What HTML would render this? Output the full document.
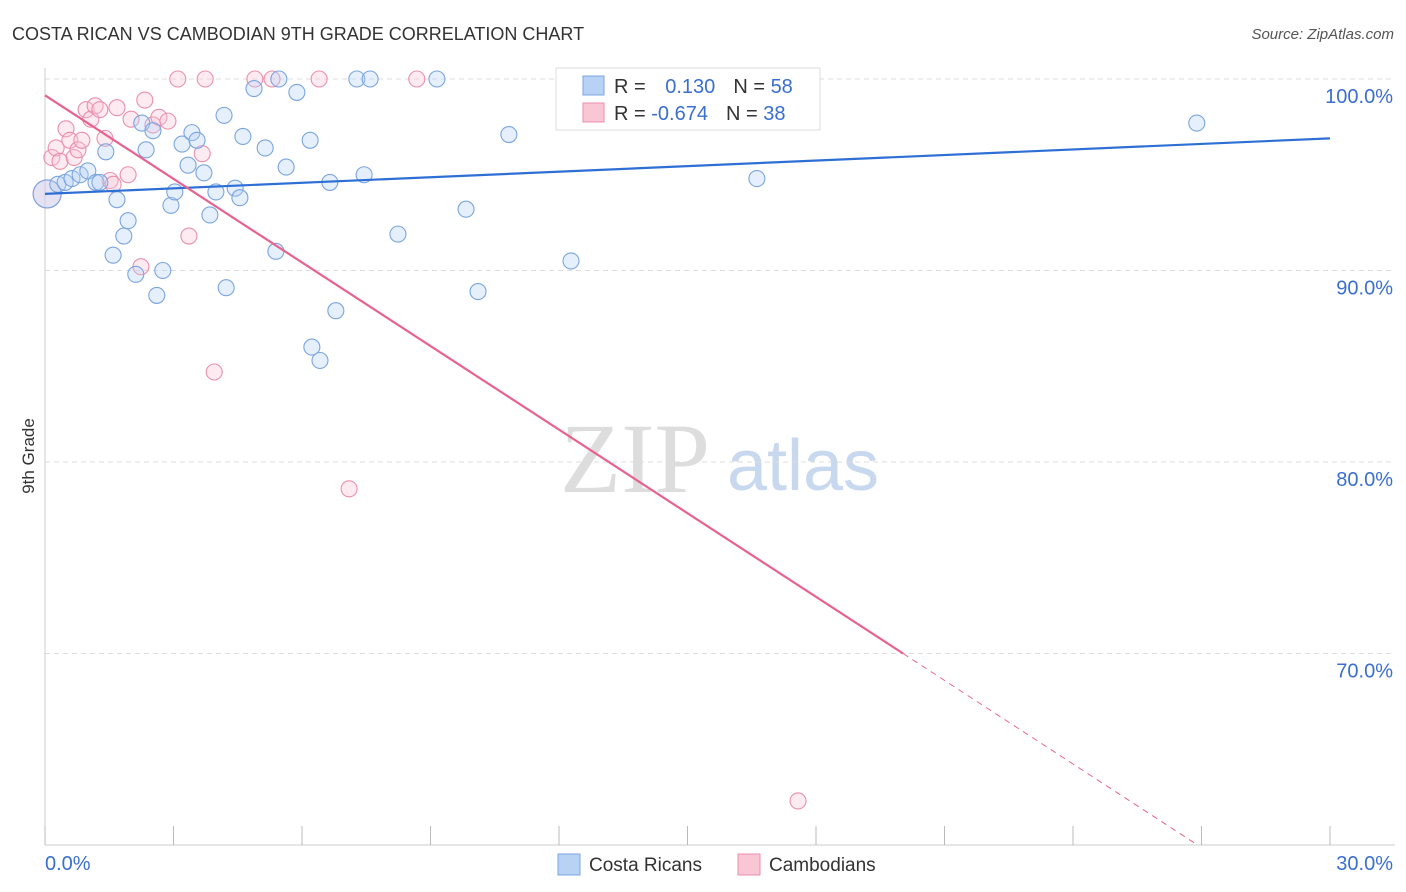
<!DOCTYPE html>
<html><head><meta charset="utf-8"><style>
body{margin:0;background:#fff;font-family:"Liberation Sans",sans-serif;}
svg{display:block}
</style></head><body>
<svg id="chart" width="1406" height="892" viewBox="0 0 1406 892">
<text x="12" y="40" font-size="18" fill="#333">COSTA RICAN VS CAMBODIAN 9TH GRADE CORRELATION CHART</text>
<text x="1394" y="39" font-size="15" fill="#555" font-style="italic" text-anchor="end">Source: ZipAtlas.com</text>
<text x="34" y="456" font-size="17" fill="#333" text-anchor="middle" transform="rotate(-90 34 456)">9th Grade</text>
<g><text x="635" y="492" font-size="100" font-family="Liberation Serif,serif" fill="#ddd" text-anchor="middle">ZIP</text><text x="803" y="490" font-size="72" fill="#c8d8ee" text-anchor="middle">atlas</text></g>
<g id="grid"></g><g id="marks"></g>
<g>
<rect x="556" y="68" width="264" height="62" fill="#fff" stroke="#ddd"/>
<rect x="583" y="76" width="21" height="19" fill="#b8d2f5" stroke="#7aa5e0"/>
<rect x="583" y="103" width="21" height="19" fill="#f9c6d6" stroke="#eb8fac"/>
<text x="614" y="93" font-size="20" fill="#333">R = <tspan fill="#3a6fd0" dx="14">0.130</tspan><tspan dx="18" fill="#333">N = </tspan><tspan fill="#3a6fd0">58</tspan></text>
<text x="614" y="120" font-size="20" fill="#333">R = <tspan fill="#3a6fd0">-0.674</tspan><tspan dx="18" fill="#333">N = </tspan><tspan fill="#3a6fd0">38</tspan></text>
</g>
<g>
<rect x="558" y="854" width="22" height="21" fill="#b8d2f5" stroke="#7aa5e0"/><text x="589" y="871" font-size="19" fill="#333">Costa Ricans</text>
<rect x="738" y="854" width="22" height="21" fill="#f9c6d6" stroke="#eb8fac"/><text x="769" y="871" font-size="19" fill="#333">Cambodians</text>
</g>
</svg>
<script>
const blueX=[0.05,0.3,0.47,0.63,0.82,1.0,1.19,1.28,1.42,1.59,1.68,1.84,1.94,2.12,2.26,2.36,2.52,2.61,2.75,2.94,3.03,3.2,3.34,3.43,3.55,3.71,3.85,3.99,4.18,4.23,4.44,4.55,4.62,4.88,5.14,5.39,5.46,5.63,5.88,6.19,6.23,6.42,6.65,6.79,7.28,7.45,7.59,8.24,9.15,9.83,10.11,10.83,12.28,16.62,26.89];
const blueY=[94.0,94.5,94.6,94.8,95.0,95.2,94.6,94.6,96.2,90.8,93.7,91.8,92.6,89.8,97.7,96.3,97.3,88.7,90.0,93.4,94.1,96.6,95.5,97.2,96.8,95.1,92.9,94.1,98.1,89.1,94.3,93.8,97.0,99.5,96.4,91.0,100,95.4,99.3,96.8,86.0,85.3,94.6,87.9,100,95.0,100,91.9,100,93.2,88.9,97.1,90.5,94.8,97.7];
const pinkX=[0.05,0.16,0.26,0.35,0.49,0.58,0.68,0.77,0.86,0.96,1.07,1.17,1.28,1.4,1.52,1.59,1.68,1.94,2.01,2.24,2.33,2.52,2.66,2.87,3.1,3.36,3.67,3.74,3.95,4.9,5.3,6.4,7.1,8.68,17.58];
const pinkY=[94.0,95.9,96.4,95.7,97.4,96.8,95.9,96.3,96.8,98.4,97.9,98.6,98.4,96.9,94.7,94.5,98.5,95.0,97.9,90.2,98.9,97.6,98.0,97.8,100,91.8,96.1,100,84.7,100,100,100,78.6,100,62.3];
const blueTrend=[94.0,96.9];
const pinkTrend=[99.15,55.5];
const yTicks=[100,90,80,70];
const xTicks=[0,3,6,9,12,15,18,21,24,27,30];
const NS="http://www.w3.org/2000/svg";
const sx=v=>45+v/30*1285, sy=v=>79+(100-v)*19.15;
function mk(t,a,p){const e=document.createElementNS(NS,t);for(const k in a)e.setAttribute(k,a[k]);p.appendChild(e);return e;}
const grid=document.getElementById('grid'),marks=document.getElementById('marks');
yTicks.forEach(v=>{
 const l=mk('line',{x1:45,x2:1395,y1:sy(v),y2:sy(v),stroke:'#ddd','stroke-dasharray':'5,4'},grid);
 
 
 const t=mk('text',{x:1393,y:sy(v)+24,'font-size':20,fill:'#3a6fd0','text-anchor':'end'},grid);t.textContent=v.toFixed(1)+'%';
 
 
});
mk('line',{x1:45,x2:45,y1:68,y2:845,stroke:'#ccc'},grid);
mk('line',{x1:45,x2:1395,y1:845,y2:845,stroke:'#ccc'},grid);
xTicks.forEach(v=>{
 const l=mk('line',{x1:sx(v),x2:sx(v),y1:826,y2:845,stroke:'#bbb'},grid);
 
 
});
[[0,'0.0%','start',45],[30,'30.0%','end',1393]].forEach(d=>{const t=mk('text',{x:d[3],y:870,'font-size':20,fill:'#3a6fd0','text-anchor':d[2]},grid);t.textContent=d[1];
 
 });
function pts(X,Y,fill,stroke,name){X.forEach((x,i)=>{const c=mk('circle',{cx:sx(x),cy:sy(Y[i]),r:i==0?14:8,fill:fill,stroke:stroke,'stroke-width':1.1,'fill-opacity':0.35},marks);
 
 });}
pts(pinkX,pinkY,'#f9c6d6','#eb8fac','cambodian-point');
pts(blueX,blueY,'#b8d2f5','#7aa5e0','costa-rican-point');
const bl=mk('line',{x1:sx(0),y1:sy(blueTrend[0]),x2:sx(30),y2:sy(blueTrend[1]),stroke:'#2e6fd6','stroke-width':2.2},marks);


const slope=(pinkTrend[1]-pinkTrend[0])/30, px=v=>pinkTrend[0]+slope*v;
const xs=(70-pinkTrend[0])/slope, xe=(60-pinkTrend[0])/slope;
const pl=mk('line',{x1:sx(0),y1:sy(px(0)),x2:sx(xs),y2:sy(px(xs)),stroke:'#e8628f','stroke-width':2.2},marks);


const pd=mk('line',{x1:sx(xs),y1:sy(px(xs)),x2:sx(xe),y2:sy(px(xe)),stroke:'#e8628f','stroke-width':1,'stroke-dasharray':'6,5'},marks);


</script>
</body></html>
